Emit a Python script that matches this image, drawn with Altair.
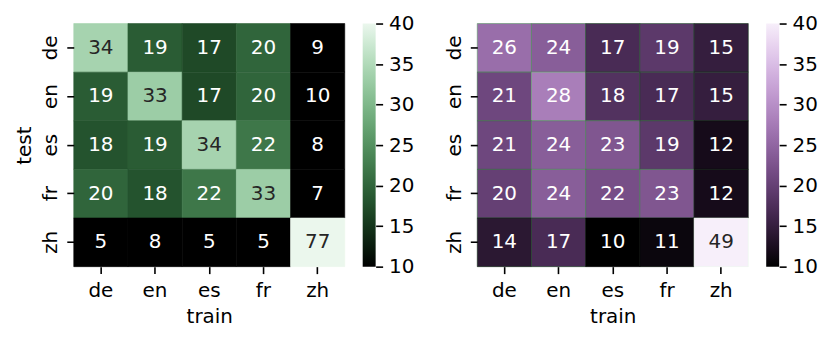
import altair as alt
import pandas as pd
import numpy as np

langs = ["de", "en", "es", "fr", "zh"]
left_vals = [
    [34, 19, 17, 20, 9],
    [19, 33, 17, 20, 10],
    [18, 19, 34, 22, 8],
    [20, 18, 22, 33, 7],
    [5, 8, 5, 5, 77],
]
right_vals = [
    [26, 24, 17, 19, 15],
    [21, 28, 18, 17, 15],
    [21, 24, 23, 19, 12],
    [20, 24, 22, 23, 12],
    [14, 17, 10, 11, 49],
]
cbar_ticks = [10, 15, 20, 25, 30, 35, 40]
vmin, vmax = 10, 40

FONT = "DejaVu Sans"
FS = 20
CELL_W = 272
CELL_H = 244


def cubehelix_hex(x, start, rot, gamma=1.0, hue=0.8):
    xg = x ** gamma
    a = hue * xg * (1 - xg) / 2
    phi = 2 * np.pi * (start / 3 + rot * x)
    r = xg + a * (-0.14861 * np.cos(phi) + 1.78277 * np.sin(phi))
    g = xg + a * (-0.29227 * np.cos(phi) - 0.90649 * np.sin(phi))
    b = xg + a * (1.97294 * np.cos(phi))
    rgb = [int(round(min(max(c, 0), 1) * 255)) for c in (r, g, b)]
    return "#%02x%02x%02x" % tuple(rgb)


def cmap(start, rot=0.0, light=0.95, dark=0.0, n=31):
    vals = np.linspace(vmin, vmax, n)
    xs = dark + (light - dark) * (vals - vmin) / (vmax - vmin)
    return [float(v) for v in vals], [cubehelix_hex(x, start, rot) for x in xs]


def heatmap(vals, start, ytitle):
    rows = []
    for i, t in enumerate(langs):
        for j, tr in enumerate(langs):
            rows.append({"test": t, "train": tr, "v": vals[i][j]})
    df = pd.DataFrame(rows)
    dom, rng = cmap(start)
    scale = alt.Scale(domain=dom, range=rng, clamp=True, interpolate="rgb")
    yaxis = alt.Axis(labelAngle=-90, labelAlign="center", labelBaseline="bottom",
                     labelPadding=6, titlePadding=6)
    base = alt.Chart(df).encode(
        x=alt.X("train:N", sort=langs, title="train",
                axis=alt.Axis(labelAngle=0, labelPadding=7, titlePadding=6)),
        y=alt.Y("test:N", sort=langs, title=ytitle if ytitle else None, axis=yaxis),
    )
    rect = base.mark_rect(strokeWidth=0.6).encode(
        color=alt.Color("v:Q", scale=scale, legend=None),
        stroke=alt.Stroke("v:Q", scale=scale, legend=None),
    )
    text = base.mark_text(font=FONT, fontSize=FS).encode(
        text=alt.Text("v:Q"),
        color=alt.condition("datum.v >= 30", alt.value("#262626"), alt.value("#ffffff")),
    )
    return alt.layer(rect, text).resolve_scale(color="independent").properties(
        width=CELL_W, height=CELL_H)


def colorbar(start):
    dom, rng = cmap(start, n=31)
    stops = [alt.GradientStop(offset=(d - vmin) / (vmax - vmin), color=c)
             for d, c in zip(dom, rng)]
    grad = alt.LinearGradient(gradient="linear", stops=stops, x1=0, x2=0, y1=1, y2=0)
    df = pd.DataFrame({"lo": [vmin], "hi": [vmax]})
    return alt.Chart(df).mark_rect(color=grad).encode(
        x=alt.value(0), x2=alt.value(13),
        y=alt.Y("lo:Q", scale=alt.Scale(domain=[vmin, vmax], nice=False, zero=False),
                title=None,
                axis=alt.Axis(orient="right", values=cbar_ticks, grid=False,
                              labelPadding=6, labelOverlap=False)),
        y2="hi:Q",
    ).properties(width=13, height=CELL_H)


left = alt.hconcat(heatmap(left_vals, 2.0, "test"), colorbar(2.0), spacing=17)
right = alt.hconcat(heatmap(right_vals, 0.3, None), colorbar(0.3), spacing=17)

chart = alt.hconcat(left, right, spacing=30).properties(
    padding={"left": 7, "top": 5, "right": 5, "bottom": 5}
).configure_view(strokeWidth=0).configure_axis(
    labelFont=FONT, titleFont=FONT, labelFontSize=FS, titleFontSize=FS,
    labelColor="#000000", titleColor="#000000", titleFontWeight="normal",
    domain=False, grid=False, tickColor="#000000", tickWidth=1.6, tickSize=7,
)

chart.save("out.html", embed_options={"renderer": "svg", "actions": False})
